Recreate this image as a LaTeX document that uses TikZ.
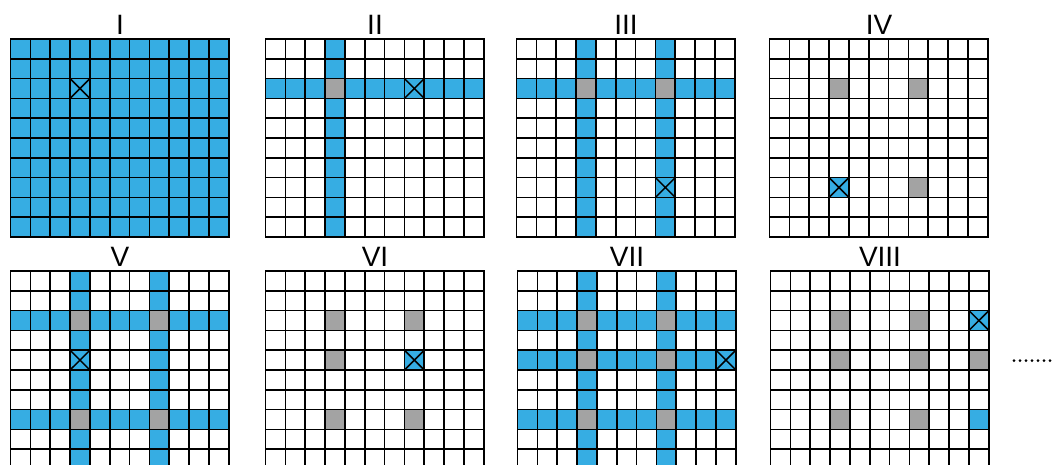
\documentclass[tikz,border=0pt]{standalone}
\usepackage{fontspec}
\setmainfont{Liberation Sans}
\definecolor{cellblue}{HTML}{36ADE3}
\definecolor{cellgray}{HTML}{A3A3A3}
\tikzset{
  gridline/.style={line width=1.7pt,black},
  xline/.style={line width=1.5pt,black},
  cellgrid/.style={x=19.85pt,y=-19.8pt},
  lbl/.style={anchor=base,inner sep=0pt,font=\fontsize{28}{28}\selectfont},
  dotmark/.style={circle,fill=black,inner sep=0pt,minimum size=3pt}
}
\newcommand{\gridlines}{%
  \foreach \i in {1,...,10} \draw[gridline] (\i,0) -- (\i,10);
  \foreach \j in {1,...,9} \draw[gridline] (0,\j) -- (11,\j);
  \draw[gridline] (0,0) rectangle (11,10);}
\newcommand{\xmark}[2]{\draw[xline] (#1,#2) -- (#1+1,#2+1) (#1+1,#2) -- (#1,#2+1);}
\newcommand{\bcol}[1]{\fill[cellblue] (#1,0) rectangle (#1+1,10);}
\newcommand{\brow}[1]{\fill[cellblue] (0,#1) rectangle (11,#1+1);}
\newcommand{\bcell}[2]{\fill[cellblue] (#1,#2) rectangle (#1+1,#2+1);}
\newcommand{\gcell}[2]{\fill[cellgray] (#1,#2) rectangle (#1+1,#2+1);}
\begin{document}
\begin{tikzpicture}[x=1pt,y=-1pt]
\useasboundingbox (0,0) rectangle (1055,465);
\clip (0,0) rectangle (1055,465);
\fill[white] (0,0) rectangle (1055,465);

% labels
\node[lbl] (lI)    at (120,34.3)  {I};
\node[lbl] (lII)   at (375,34.3)  {II};
\node[lbl] (lIII)  at (626,34.3)  {III};
\node[lbl] (lIV)   at (879,34.3)  {IV};
\node[lbl] (lV)    at (120,266.7) {V};
\node[lbl] (lVI)   at (375,266.7) {VI};
\node[lbl] (lVII)  at (627,266.7) {VII};
\node[lbl] (lVIII) at (880,266.7) {VIII};

% I
\begin{scope}[shift={(10.5,39)},cellgrid]
  \fill[cellblue] (0,0) rectangle (11,10);
  \gridlines
  \xmark{3}{2}
\end{scope}
% II
\begin{scope}[shift={(265.5,39)},cellgrid]
  \bcol{3}\brow{2}
  \gcell{3}{2}
  \gridlines
  \xmark{7}{2}
\end{scope}
% III
\begin{scope}[shift={(516.5,39)},cellgrid]
  \bcol{3}\bcol{7}\brow{2}
  \gcell{3}{2}\gcell{7}{2}
  \gridlines
  \xmark{7}{7}
\end{scope}
% IV
\begin{scope}[shift={(769.5,39)},cellgrid]
  \gcell{3}{2}\gcell{7}{2}\gcell{7}{7}
  \bcell{3}{7}
  \gridlines
  \xmark{3}{7}
\end{scope}
% V
\begin{scope}[shift={(10.5,271)},cellgrid]
  \bcol{3}\bcol{7}\brow{2}\brow{7}
  \gcell{3}{2}\gcell{7}{2}\gcell{3}{7}\gcell{7}{7}
  \gridlines
  \xmark{3}{4}
\end{scope}
% VI
\begin{scope}[shift={(265.5,271)},cellgrid]
  \gcell{3}{2}\gcell{7}{2}\gcell{3}{4}\gcell{3}{7}\gcell{7}{7}
  \bcell{7}{4}
  \gridlines
  \xmark{7}{4}
\end{scope}
% VII
\begin{scope}[shift={(517.5,271)},cellgrid]
  \bcol{3}\bcol{7}\brow{2}\brow{4}\brow{7}
  \gcell{3}{2}\gcell{7}{2}\gcell{3}{4}\gcell{7}{4}\gcell{3}{7}\gcell{7}{7}
  \gridlines
  \xmark{10}{4}
\end{scope}
% VIII
\begin{scope}[shift={(770.5,271)},cellgrid]
  \gcell{3}{2}\gcell{7}{2}\gcell{3}{4}\gcell{7}{4}\gcell{10}{4}\gcell{3}{7}\gcell{7}{7}
  \bcell{10}{2}\bcell{10}{7}
  \gridlines
  \xmark{10}{2}
\end{scope}

% continuation dots
\foreach \k in {0,...,6}
  \node[dotmark] (dot\k) at (1014+6*\k,360.7) {};
\end{tikzpicture}
\end{document}
